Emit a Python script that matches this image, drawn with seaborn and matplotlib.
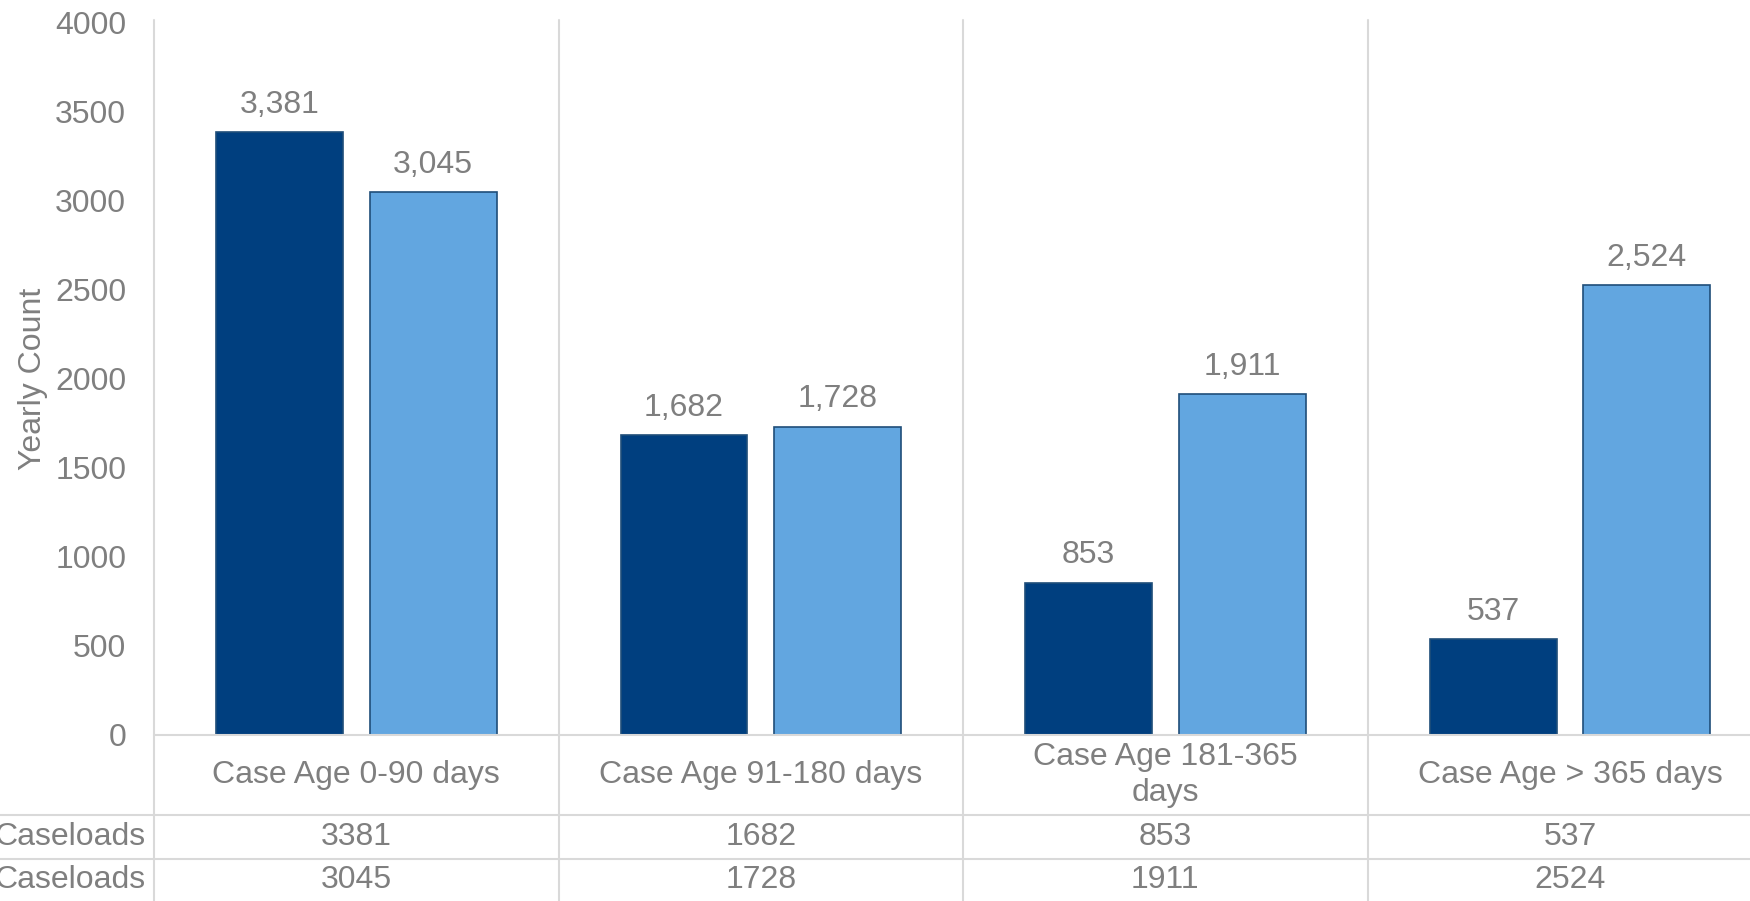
import matplotlib
matplotlib.use("Agg")
import matplotlib.pyplot as plt
import matplotlib.transforms as mtransforms
import seaborn as sns
import pandas as pd

# Values
categories = ["Case Age 0-90 days", "Case Age 91-180 days",
              "Case Age 181-365 days", "Case Age > 365 days"]
category_labels = ["Case Age 0-90 days", "Case Age 91-180 days",
                   "Case Age 181-365\ndays", "Case Age > 365 days"]
series_a = [3381, 1682, 853, 537]
series_b = [3045, 1728, 1911, 2524]
series_keys = ["A", "B"]
row_labels = ["Caseloads", "Caseloads"]
y_ticks = [0, 500, 1000, 1500, 2000, 2500, 3000, 3500, 4000]

df = pd.DataFrame({
    "category": categories * 2,
    "series": [series_keys[0]] * 4 + [series_keys[1]] * 4,
    "value": series_a + series_b,
})

sns.set_theme(style="white")
plt.rcParams["font.family"] = ["Liberation Sans", "DejaVu Sans"]
GRAY = "#7f7f7f"
LINE = "#d9d9d9"
FS = 23

W, H = 1750, 901
fig = plt.figure(figsize=(W / 100, H / 100), dpi=100)
ax_left, ax_right, ax_top, ax_bottom = 154, 1750, 22, 735
ax = fig.add_axes([ax_left / W, 1 - ax_bottom / H,
                   (ax_right - ax_left) / W, (ax_bottom - ax_top) / H])

sns.barplot(data=df, x="category", y="value", hue="series",
            order=categories, hue_order=series_keys,
            palette=["#003f7f", "#62a6e0"], saturation=1,
            width=0.76, gap=0.175,
            edgecolor="#1f4e79", linewidth=1.2, legend=False, ax=ax)

for cont in ax.containers:
    ax.bar_label(cont, labels=[f"{int(v.get_height()):,}" for v in cont],
                 padding=9, color=GRAY, fontsize=FS)

ax.set_ylim(0, 4000)
ax.set_xlim(-0.5, 3.445)
ax.set_yticks(y_ticks)
ax.set_yticklabels([str(t) for t in y_ticks], color=GRAY, fontsize=FS)
ax.tick_params(axis="y", length=0, pad=20)
ax.set_xticks([])
ax.set_xlabel("")
ax.set_ylabel("Yearly Count", color=GRAY, fontsize=FS)
ax.yaxis.set_label_coords((48 - ax_left) / (ax_right - ax_left), 0.5)
for s in ax.spines.values():
    s.set_visible(False)

# Table below the plot: x in data units, y in figure pixels
def fy(py):
    return 1 - py / H

trans = mtransforms.blended_transform_factory(ax.transData, fig.transFigure)
lw = 1.5

# vertical separators between categories
for xb in [-0.5, 0.5, 1.5, 2.5]:
    ax.plot([xb, xb], [fy(ax_top - 2), fy(H)], transform=trans, color=LINE,
            lw=lw, clip_on=False, zorder=0)

# baseline and table rows
fig.add_artist(plt.Line2D([ax_left / W, 1], [fy(ax_bottom), fy(ax_bottom)],
                          color=LINE, lw=lw))
for py in [815, 859]:
    fig.add_artist(plt.Line2D([0, 1], [fy(py), fy(py)], color=LINE, lw=lw))

for i, lab in enumerate(category_labels):
    ax.text(i, fy(775), lab, transform=trans, ha="center", va="center",
            color=GRAY, fontsize=FS, linespacing=1.28, clip_on=False)
    ax.text(i, fy(837), str(series_a[i]), transform=trans, ha="center",
            va="center", color=GRAY, fontsize=FS, clip_on=False)
    ax.text(i, fy(880), str(series_b[i]), transform=trans, ha="center",
            va="center", color=GRAY, fontsize=FS, clip_on=False)

for py, lab in zip([837, 880], row_labels):
    fig.text(146 / W, fy(py), lab, ha="right", va="center",
             color=GRAY, fontsize=FS)

fig.savefig("out.png", dpi=100, facecolor="white")
